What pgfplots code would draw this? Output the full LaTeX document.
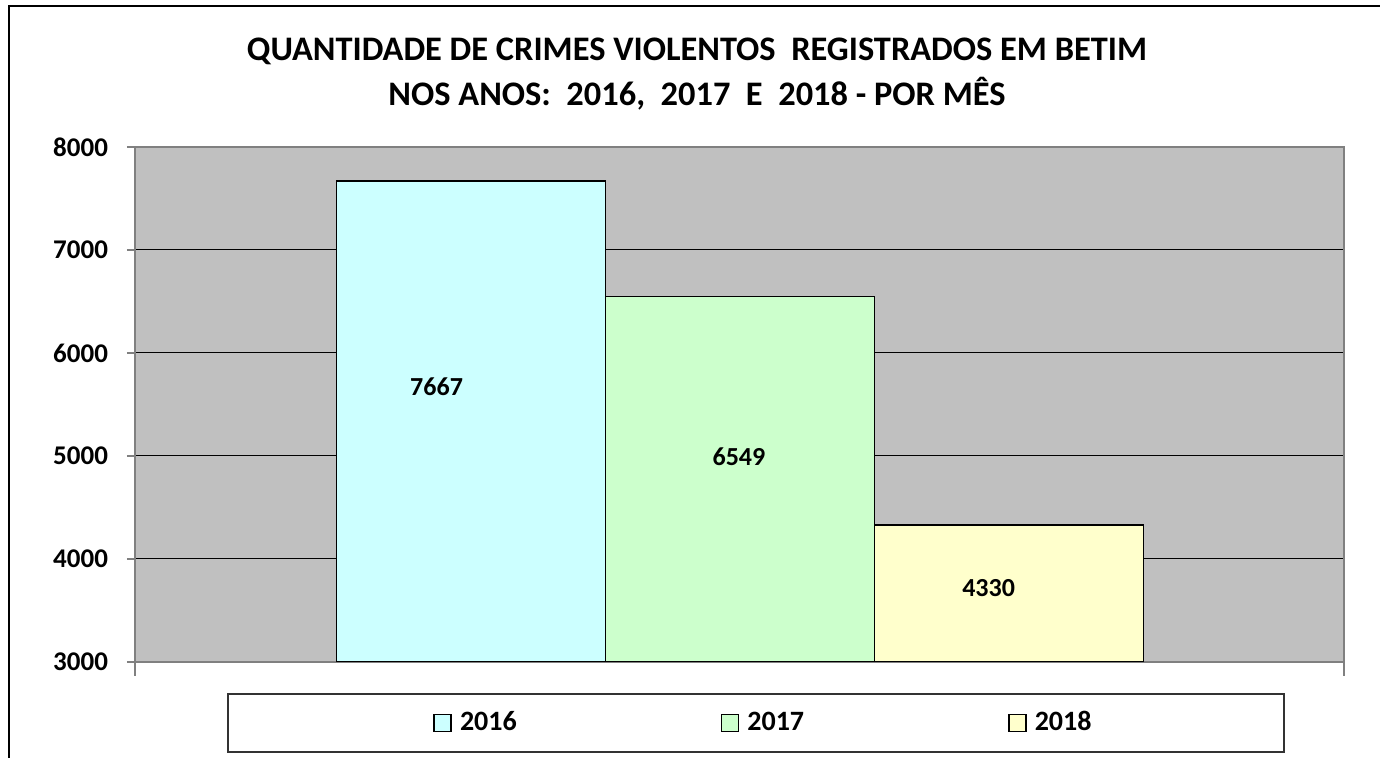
\documentclass[border=0pt]{standalone}
\usepackage{fontspec}
\setmainfont{Carlito}
\usepackage{pgfplots}
\pgfplotsset{compat=1.18}
\definecolor{plotgray}{HTML}{C0C0C0}
\definecolor{c16}{HTML}{CCFFFF}
\definecolor{c17}{HTML}{CCFFCC}
\definecolor{c18}{HTML}{FFFFCC}
\definecolor{axgray}{HTML}{808080}
\pgfplotsset{sqlegend/.style={legend image code/.code={\draw[##1, line width=0.7pt] (0pt,-4.25pt) rectangle (8.5pt,4.25pt); \path (10.5pt,0pt);}}}
\begin{document}
\begin{tikzpicture}[x=0.5pt,y=0.5pt]
\path[use as bounding box] (0,0) rectangle (1380,758);
\draw[line width=1pt] (9,0) -- (9,751.5) -- (1380,751.5);
\node[font=\fontsize{17.2}{20}\selectfont\bfseries] at (697,707) {QUANTIDADE DE CRIMES VIOLENTOS\ \ REGISTRADOS EM BETIM};
\node[font=\fontsize{17.2}{20}\selectfont\bfseries] at (697,664) {NOS ANOS:\ \ 2016,\ \ 2017\ \ E\ \ 2018 - POR MÊS};
\draw[line width=0.6pt, black!80] (228,64) rectangle (1284,6);
\draw[axgray, line width=0.6pt] (135,96) -- (135,82);
\draw[axgray, line width=0.6pt] (1344,96) -- (1344,82);
\begin{axis}[
  at={(67.5pt,48pt)}, anchor=south west,
  scale only axis, width=604.5pt, height=257.5pt,
  axis background/.style={fill=plotgray},
  axis line style={axgray, line width=0.8pt},
  ymin=3000, ymax=8000, ytick={3000,4000,...,8000},
  xmin=-1.249, xmax=3.245, xtick=\empty,
  ytick pos=left,
  ymajorgrids, grid style={black, line width=0.5pt},
  tick align=outside, major tick length=4pt,
  tick style={axgray, line width=0.6pt},
  yticklabel style={font=\fontsize{13.5}{15}\selectfont\bfseries, xshift=-6pt,
    /pgf/number format/assume math mode=true,
    /pgf/number format/set thousands separator={}},
  legend columns=3,
  legend style={at={(0.2465,-0.118)}, anchor=west, draw=none, fill=none,
    inner sep=0pt,
    font=\fontsize{14}{16}\selectfont\bfseries,
    /tikz/every even column/.append style={column sep=100pt}},
]
\addplot[ybar, bar width=1, bar shift=0, fill=c16, draw=black, line width=0.9pt, sqlegend]
  coordinates {(0,7667)};
\addlegendentry{2016}
\addplot[ybar, bar width=1, bar shift=0, fill=c17, draw=black, line width=0.9pt, sqlegend]
  coordinates {(1,6549)};
\addlegendentry{2017}
\addplot[ybar, bar width=1, bar shift=0, fill=c18, draw=black, line width=0.9pt, sqlegend]
  coordinates {(2,4330)};
\addlegendentry{2018}
\node[font=\fontsize{13}{15}\selectfont\bfseries] at (axis cs:-0.128,5670) {7667};
\node[font=\fontsize{13}{15}\selectfont\bfseries] at (axis cs:0.996,4990) {6549};
\node[font=\fontsize{13}{15}\selectfont\bfseries] at (axis cs:1.924,3718) {4330};
\end{axis}
\end{tikzpicture}
\end{document}
